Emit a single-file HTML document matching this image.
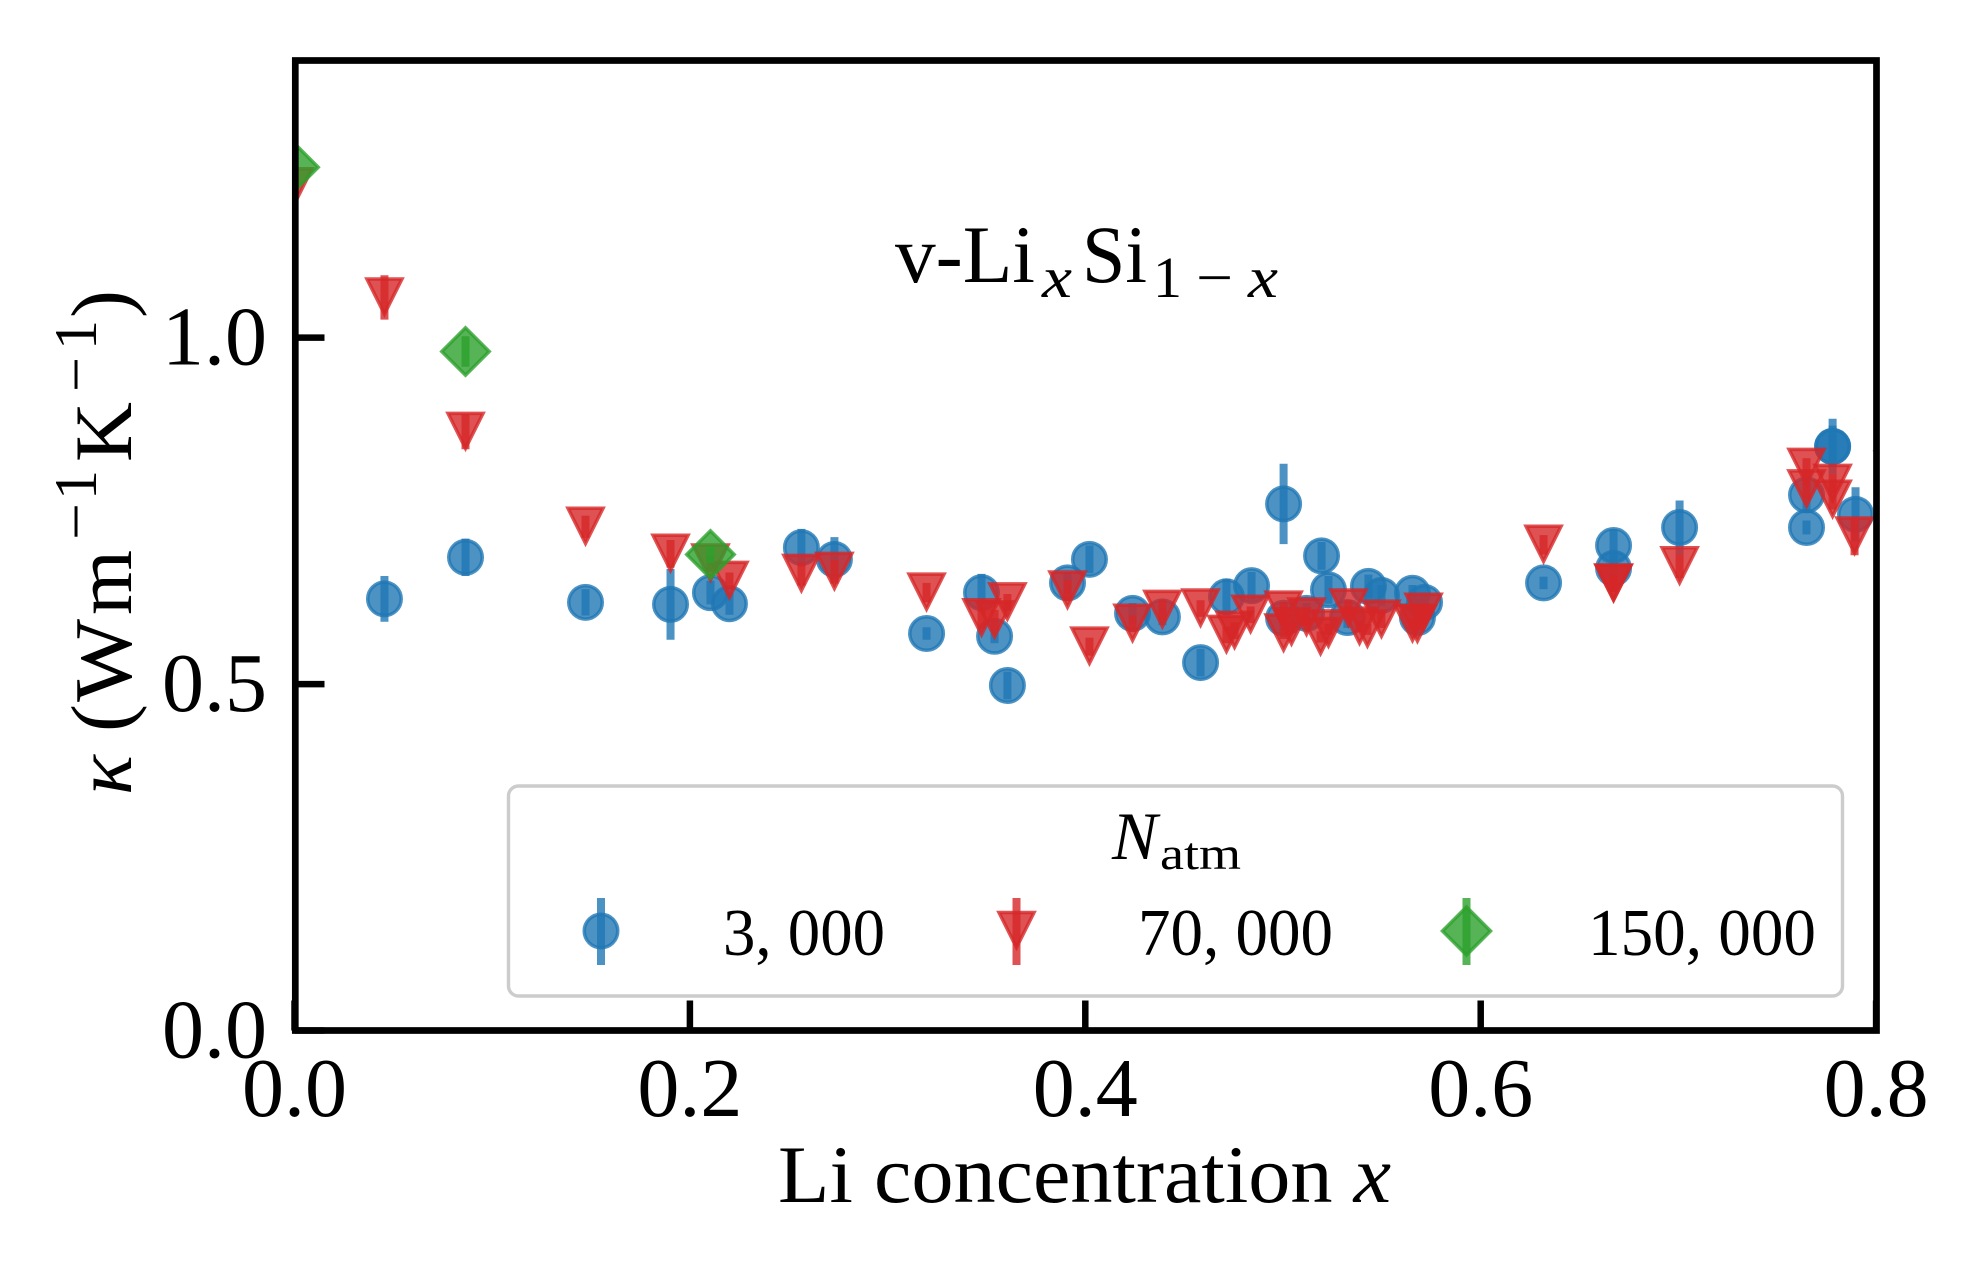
<!DOCTYPE html>
<html lang="en">
<head>
<meta charset="utf-8">
<title>v-LixSi1-x thermal conductivity</title>
<style>
html,body{margin:0;padding:0;background:#fff;}
svg{display:block;}
text{font-family:"Liberation Serif",serif;fill:#000;}
</style>
</head>
<body>
<svg id="chart" xmlns="http://www.w3.org/2000/svg" width="1988" height="1280" viewBox="0 0 1988 1280">
  <defs>
    <clipPath id="plot-clip"><rect x="295.3" y="60.5" width="1581.2" height="970"/></clipPath>
  </defs>
  <rect x="0" y="0" width="1988" height="1280" fill="#fff"/>
  <g id="ticks"></g>
  <g id="marks" clip-path="url(#plot-clip)"></g>

  <g>
    <text x="895" y="282" font-size="82" textLength="140" lengthAdjust="spacingAndGlyphs">v-Li</text>
    <text x="1042" y="297" font-size="58" font-style="italic" textLength="30" lengthAdjust="spacingAndGlyphs">x</text>
    <text x="1082" y="282" font-size="82" textLength="65" lengthAdjust="spacingAndGlyphs">Si</text>
    <text x="1153" y="297" font-size="58">1</text>
    <text x="1196" y="297" font-size="58" textLength="37" lengthAdjust="spacingAndGlyphs">−</text>
    <text x="1248" y="297" font-size="58" font-style="italic" textLength="30" lengthAdjust="spacingAndGlyphs">x</text>
  </g>

  <g transform="translate(131,795) rotate(-90)">
    <text x="0" y="0" font-size="82" font-style="italic" textLength="40" lengthAdjust="spacingAndGlyphs">κ</text>
    <text x="63" y="-2" font-size="84">(</text>
    <text x="93" y="0" font-size="82" textLength="83" lengthAdjust="spacingAndGlyphs">W</text>
    <text x="180" y="0" font-size="82" textLength="65" lengthAdjust="spacingAndGlyphs">m</text>
    <text x="255" y="-35" font-size="60" textLength="37" lengthAdjust="spacingAndGlyphs">−</text>
    <text x="295" y="-35" font-size="60">1</text>
    <text x="333" y="0" font-size="82" textLength="60" lengthAdjust="spacingAndGlyphs">K</text>
    <text x="403" y="-35" font-size="60" textLength="35" lengthAdjust="spacingAndGlyphs">−</text>
    <text x="445" y="-35" font-size="60">1</text>
    <text x="477" y="-2" font-size="84">)</text>
  </g>

  <text x="778" y="1202" font-size="82" textLength="613" lengthAdjust="spacingAndGlyphs">Li concentration <tspan font-style="italic">x</tspan></text>

  <g id="legend">
    <rect x="508.5" y="786" width="1334" height="210" rx="10" ry="10" fill="#fff" fill-opacity="0.8" stroke="#ccc" stroke-width="3.4"/>
    <text x="1112" y="859" font-size="68" font-style="italic">N</text>
    <text x="1160" y="869" font-size="46" textLength="81" lengthAdjust="spacingAndGlyphs">atm</text>

    <g>
      <line x1="601" y1="898" x2="601" y2="965" stroke="#1f77b4" stroke-opacity="0.8" stroke-width="8"/>
      <circle cx="601" cy="931" r="16.75" fill="#1f77b4" fill-opacity="0.8" stroke="#1f77b4" stroke-opacity="0.8" stroke-width="3.5"/>
      <text x="723" y="955" font-size="67" textLength="162" lengthAdjust="spacingAndGlyphs">3, 000</text>
    </g>
    <g>
      <line x1="1016.5" y1="898" x2="1016.5" y2="965" stroke="#d62728" stroke-opacity="0.8" stroke-width="8"/>
      <path d="M1016.5 947.5L999 912.5H1034Z" fill="#d62728" fill-opacity="0.8" stroke="#d62728" stroke-opacity="0.8" stroke-width="3.5" stroke-miterlimit="10"/>
      <text x="1138" y="955" font-size="67" textLength="195" lengthAdjust="spacingAndGlyphs">70, 000</text>
    </g>
    <g>
      <line x1="1466.5" y1="898" x2="1466.5" y2="965" stroke="#2ca02c" stroke-opacity="0.8" stroke-width="8"/>
      <path d="M1466.5 907L1490.5 931L1466.5 955L1442.5 931Z" fill="#2ca02c" fill-opacity="0.8" stroke="#2ca02c" stroke-opacity="0.8" stroke-width="3.5" stroke-miterlimit="10"/>
      <text x="1588" y="955" font-size="67" textLength="228" lengthAdjust="spacingAndGlyphs">150, 000</text>
    </g>
  </g>

  <rect x="295.3" y="60.5" width="1581.2" height="970" fill="none" stroke="#000" stroke-width="6.7"/>
  <g id="tick-labels"></g>
</svg>

<script>
// Tick values and labels
const xTicks = [0, 0.2, 0.4, 0.6, 0.8];
const xTickLabels = ["0.0", "0.2", "0.4", "0.6", "0.8"];
const yTicks = [0, 0.5, 1.0];
const yTickLabels = ["0.0", "0.5", "1.0"];

// N_atm = 3,000 series
const blueX = [0.0455,0.0865,0.1472,0.1902,0.2104,0.2200,0.2564,0.2731,0.3197,0.3475,0.3541,0.3606,0.3910,0.4021,0.4239,0.4390,0.4583,0.4714,0.4841,0.5003,0.5003,0.5119,0.5195,0.5230,0.5326,0.5432,0.5498,0.5655,0.5716,0.5680,0.6318,0.6672,0.6672,0.7006,0.7648,0.7648,0.7780,0.7780,0.7896,0.8085];
const blueY = [0.623,0.683,0.618,0.615,0.632,0.616,0.697,0.680,0.573,0.632,0.569,0.498,0.646,0.680,0.602,0.597,0.531,0.626,0.642,0.760,0.595,0.602,0.685,0.636,0.596,0.641,0.628,0.631,0.618,0.596,0.646,0.700,0.667,0.726,0.773,0.726,0.843,0.843,0.745,0.801];
const blueErr = [0.033,0.027,0.019,0.051,0.017,0.016,0.027,0.032,0.009,0.027,0.010,0.020,0.015,0.020,0.015,0.012,0.020,0.026,0.020,0.058,0.017,0.015,0.020,0.020,0.015,0.017,0.015,0.012,0.014,0.015,0.009,0.023,0.014,0.039,0.026,0.010,0.040,0.030,0.039,0.015];

// N_atm = 70,000 series
const redX = [0,0.0455,0.0865,0.1472,0.1902,0.2104,0.2200,0.2564,0.2731,0.3197,0.3475,0.3541,0.3606,0.3910,0.4021,0.4239,0.4390,0.4583,0.4714,0.4755,0.4836,0.5003,0.5003,0.5043,0.5119,0.5190,0.5230,0.5331,0.5387,0.5427,0.5498,0.5655,0.5680,0.5711,0.6318,0.6672,0.6672,0.7006,0.7648,0.7648,0.7780,0.7780,0.7891,0.8085];
const redY = [1.217,1.058,0.864,0.727,0.688,0.674,0.649,0.659,0.662,0.632,0.595,0.592,0.618,0.635,0.554,0.587,0.607,0.609,0.571,0.577,0.600,0.606,0.573,0.582,0.596,0.568,0.579,0.609,0.583,0.579,0.593,0.587,0.586,0.603,0.701,0.645,0.645,0.670,0.812,0.781,0.789,0.766,0.713,0.808];
const redErr = [0.010,0.032,0.025,0.016,0.020,0.012,0.012,0.017,0.017,0.014,0.015,0.015,0.012,0.015,0.013,0.012,0.015,0.012,0.012,0.012,0.012,0.012,0.008,0.008,0.012,0.008,0.008,0.012,0.008,0.008,0.012,0.008,0.008,0.012,0.014,0.012,0.012,0.017,0.014,0.014,0.014,0.014,0.027,0.014];

// N_atm = 150,000 series
const greenX = [0,0.0865,0.2104];
const greenY = [1.246,0.980,0.687];
const greenErr = [0.010,0.022,0.012];

// Axis functions
function xAxis(v){ return 294.5 + v * 1977; }
function yAxis(v){ return 1030.5 - v * 692.86; }

const NS = "http://www.w3.org/2000/svg";
const marksGroup = document.getElementById("marks");
const ticksGroup = document.getElementById("ticks");
const labelsGroup = document.getElementById("tick-labels");
const MARKER = 33.5;
const TRIANGLE_HALF = 17.5;

function make(tag, parent, attrs){
  const el = document.createElementNS(NS, tag);
  for (const k in attrs) el.setAttribute(k, attrs[k]);
  parent.appendChild(el);
  return el;
}

function drawErrorBars(xs, ys, errs, color, seriesName){
  const g = make("g", marksGroup, {});
  
  
  xs.forEach(function(x, i){
    const bar = make("line", g, {
      x1: xAxis(x), x2: xAxis(x),
      y1: yAxis(ys[i] - errs[i]), y2: yAxis(ys[i] + errs[i]),
      stroke: color, "stroke-opacity": 0.8, "stroke-width": 8
    });
    
    
  });
}

function markerStyle(color){
  return { fill: color, "fill-opacity": 0.8, stroke: color, "stroke-opacity": 0.8, "stroke-width": 3.5, "stroke-miterlimit": 10 };
}

function drawCircles(xs, ys, color, seriesName){
  const g = make("g", marksGroup, {});
  
  
  xs.forEach(function(x, i){
    const attrs = markerStyle(color);
    attrs.cx = xAxis(x);
    attrs.cy = yAxis(ys[i]);
    attrs.r = MARKER / 2;
    const pt = make("circle", g, attrs);
    
    
  });
}

function drawTriangles(xs, ys, color, seriesName){
  const g = make("g", marksGroup, {});
  
  
  const h = TRIANGLE_HALF;
  xs.forEach(function(x, i){
    const cx = xAxis(x), cy = yAxis(ys[i]) - 1;
    const attrs = markerStyle(color);
    attrs.d = "M" + cx + " " + (cy + h) + "L" + (cx - h) + " " + (cy - h) + "H" + (cx + h) + "Z";
    const pt = make("path", g, attrs);
    
    
  });
}

function drawDiamonds(xs, ys, color, seriesName){
  const g = make("g", marksGroup, {});
  
  
  const h = MARKER * Math.SQRT2 / 2;
  xs.forEach(function(x, i){
    const cx = xAxis(x), cy = yAxis(ys[i]);
    const attrs = markerStyle(color);
    attrs.d = "M" + cx + " " + (cy - h) + "L" + (cx + h) + " " + cy + "L" + cx + " " + (cy + h) + "L" + (cx - h) + " " + cy + "Z";
    const pt = make("path", g, attrs);
    
    
  });
}

drawErrorBars(blueX, blueY, blueErr, "#1f77b4", "natm-3000");
drawCircles(blueX, blueY, "#1f77b4", "natm-3000");
drawErrorBars(redX, redY, redErr, "#d62728", "natm-70000");
drawTriangles(redX, redY, "#d62728", "natm-70000");
drawErrorBars(greenX, greenY, greenErr, "#2ca02c", "natm-150000");
drawDiamonds(greenX, greenY, "#2ca02c", "natm-150000");

xTicks.forEach(function(v, i){
  const tick = make("line", ticksGroup, { x1: xAxis(v), x2: xAxis(v), y1: yAxis(0), y2: yAxis(0) - 30, stroke: "#000", "stroke-width": 6.5 });
  
  
  const label = make("text", labelsGroup, { x: xAxis(v), y: 1116, "font-size": 84, "text-anchor": "middle" });
  
  
  label.textContent = xTickLabels[i];
});

yTicks.forEach(function(v, i){
  const tick = make("line", ticksGroup, { x1: xAxis(0), x2: xAxis(0) + 30, y1: yAxis(v), y2: yAxis(v), stroke: "#000", "stroke-width": 6.5 });
  
  
  const label = make("text", labelsGroup, { x: 267, y: yAxis(v) + 27, "font-size": 84, "text-anchor": "end" });
  
  
  label.textContent = yTickLabels[i];
});
</script>
</body>
</html>
